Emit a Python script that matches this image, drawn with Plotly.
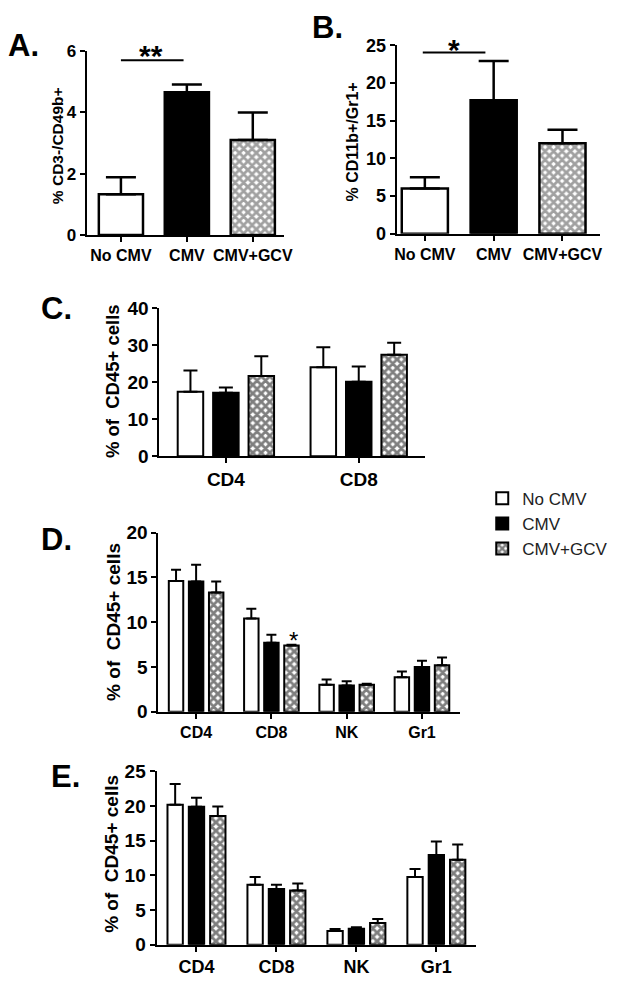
import plotly.graph_objects as go

W, H = 629, 985

# ---------------- data ----------------
groups = ["No CMV", "CMV", "CMV+GCV"]

# Panel A: % CD3-/CD49b+
a_mean = [1.33, 4.66, 3.10]
a_sem = [0.56, 0.25, 0.90]

# Panel B: % CD11b+/Gr1+
b_mean = [6.0, 17.7, 12.0]
b_sem = [1.5, 5.2, 1.8]

# Panel C
c_cats = ["CD4", "CD8"]
c_nocmv = [17.5, 24.1]
c_nocmv_sem = [5.7, 5.4]
c_cmv = [17.2, 20.2]
c_cmv_sem = [1.45, 4.1]
c_gcv = [21.7, 27.5]
c_gcv_sem = [5.4, 3.2]

# Panels D and E
de_cats = ["CD4", "CD8", "NK", "Gr1"]
d_nocmv = [14.6, 10.4, 3.0, 3.84]
d_nocmv_sem = [1.25, 1.1, 0.6, 0.66]
d_cmv = [14.55, 7.7, 2.92, 5.0]
d_cmv_sem = [1.85, 0.9, 0.48, 0.69]
d_gcv = [13.3, 7.39, 3.0, 5.2]
d_gcv_sem = [1.25, 0.1, 0.12, 0.85]

e_nocmv = [20.2, 8.64, 1.96, 9.77]
e_nocmv_sem = [3.0, 1.13, 0.28, 1.16]
e_cmv = [19.9, 8.04, 2.29, 12.94]
e_cmv_sem = [1.3, 0.6, 0.23, 1.96]
e_gcv = [18.55, 7.8, 3.13, 12.24]
e_gcv_sem = [1.4, 1.03, 0.56, 2.2]

# ---------------- styles ----------------
BOLD = "Liberation Sans, Arial, Helvetica, sans-serif"

CHECK = dict(shape="x", fgcolor="black", bgcolor="white", size=6, solidity=0.72)
fill_color = {"No CMV": "white", "CMV": "black", "CMV+GCV": "white"}
fill_shape = {"No CMV": "", "CMV": "", "CMV+GCV": "x"}


def fx(p):
    return p / W


def fy(p):
    return 1 - p / H


def err(vals, cap, thick=2):
    return dict(type="data", array=vals, arrayminus=[0] * len(vals), symmetric=False,
                color="black", thickness=thick, width=cap)


fig = go.Figure()

# Panel A / B single-trace bars
for xa, ya, means, sems in [("x", "y", a_mean, a_sem), ("x2", "y2", b_mean, b_sem)]:
    fig.add_trace(go.Bar(
        x=groups, y=means, xaxis=xa, yaxis=ya, width=0.67, showlegend=False,
        marker=dict(color=[fill_color[g] for g in groups],
                    line=dict(color="black", width=2.5),
                    pattern=dict(shape=[fill_shape[g] for g in groups], fgcolor="black",
                                 bgcolor="white", size=6, solidity=0.72)),
        error_y=err(sems, 15, 2.5), hoverinfo="skip"))

# Grouped panels
panels = [
    ("x3", "y3", c_cats, [(c_nocmv, c_nocmv_sem), (c_cmv, c_cmv_sem), (c_gcv, c_gcv_sem)], 7, False),
    ("x4", "y4", de_cats, [(d_nocmv, d_nocmv_sem), (d_cmv, d_cmv_sem), (d_gcv, d_gcv_sem)], 5, True),
    ("x5", "y5", de_cats, [(e_nocmv, e_nocmv_sem), (e_cmv, e_cmv_sem), (e_gcv, e_gcv_sem)], 5.5, False),
]
for xa, ya, cats, series, cap, leg in panels:
    for g, (vals, sems) in zip(groups, series):
        mk = dict(color=fill_color[g], line=dict(color="black", width=2))
        if fill_shape[g]:
            mk["pattern"] = CHECK
        fig.add_trace(go.Bar(x=cats, y=vals, xaxis=xa, yaxis=ya, name=g, legendgroup=g,
                             showlegend=leg, marker=mk, error_y=err(sems, cap),
                             offsetgroup=g, hoverinfo="skip"))

# ---------------- axes ----------------
boxes = {
    "": (86, 287, 42, 230, [0, 6], 2, 17, 16, [-0.52, 2.48]),
    "2": (401, 608, 36, 228.7, [0, 25], 5, 18, 16, [-0.41, 2.55]),
    "3": (160, 430, 305, 456, [0, 40], 10, 19, 19, [-0.5, 1.5]),
    "4": (159, 465, 534, 717, [0, 20], 5, 19, 16, [-0.5, 3.5]),
    "5": (157, 482, 778, 955, [0, 25], 5, 19, 18, [-0.5, 3.5]),
}
common = dict(showline=True, linewidth=2, linecolor="black", ticks="outside", ticklen=5,
              tickwidth=2, tickcolor="black", showgrid=False, zeroline=False, fixedrange=True)
layout_axes = {}
for k, (l, r, t, b, yr, dt, ysz, xsz, xr) in boxes.items():
    layout_axes["xaxis" + k] = dict(common, domain=[fx(l), fx(r)], anchor="y" + k, range=xr,
                                    type="category",
                                    tickfont=dict(family=BOLD, size=xsz, weight="bold", color="black"))
    layout_axes["yaxis" + k] = dict(common, domain=[fy(b), fy(t)], anchor="x" + k, range=yr,
                                    dtick=dt,
                                    tickfont=dict(family=BOLD, size=ysz, weight="bold", color="black"))

fig.update_layout(**layout_axes)

# ---------------- annotations ----------------
ann = []
for txt, x, y in [("A.", 4, 36), ("B.", 313, 18), ("C.", 38, 305), ("D.", 38, 541), ("E.", 48, 783)]:
    ann.append(dict(text=txt, x=fx(x), y=fy(y), xref="paper", yref="paper", xanchor="left",
                    yanchor="middle", showarrow=False,
                    font=dict(family=BOLD, size=31, weight="bold", color="black")))
for txt, x, y, sz in [("% CD3-/CD49b+", 56, 139, 15.5), ("% CD11b+/Gr1+", 356, 135, 16),
                      ("% of \u00a0CD45+ cells", 113, 379, 18.5),
                      ("% of \u00a0CD45+ cells", 113, 625, 19),
                      ("% of \u00a0CD45+ cells", 111, 862, 19)]:
    ann.append(dict(text=txt, x=fx(x), y=fy(y), xref="paper", yref="paper", textangle=-90,
                    xanchor="center", yanchor="middle", showarrow=False,
                    font=dict(family=BOLD, size=sz, weight="bold", color="black")))
ann.append(dict(text="**", x=0.45, y=5.7, xref="x", yref="y", xanchor="center", yanchor="middle",
                yshift=5, showarrow=False,
                font=dict(family=BOLD, size=30, weight="bold", color="black")))
ann.append(dict(text="*", x=0.42, y=24.05, xref="x2", yref="y2", xanchor="center", yanchor="middle",
                yshift=3, showarrow=False,
                font=dict(family=BOLD, size=30, weight="bold", color="black")))
ann.append(dict(text="*", x="CD8", y=8.0, xref="x4", yref="y4", xanchor="center", yanchor="middle",
                xshift=22, showarrow=False, font=dict(family=BOLD, size=24, color="black")))

shapes = [
    dict(type="line", x0=0.0, x1=0.95, y0=5.7, y1=5.7, xref="x", yref="y",
         line=dict(color="black", width=2)),
    dict(type="line", x0=-0.03, x1=0.88, y0=24.05, y1=24.05, xref="x2", yref="y2",
         line=dict(color="black", width=2)),
]

fig.update_layout(
    width=W, height=H, margin=dict(l=0, r=0, t=0, b=0),
    paper_bgcolor="white", plot_bgcolor="white",
    barmode="group", bargap=0.2, bargroupgap=0.28,
    annotations=ann, shapes=shapes,
    legend=dict(x=fx(488), y=fy(481), xanchor="left", yanchor="top",
                font=dict(family=BOLD, size=17, color="#222222"),
                bgcolor="rgba(0,0,0,0)", tracegroupgap=0, itemclick=False),
)

fig.write_html("out.html", config={"displayModeBar": False, "staticPlot": True},
               post_script="document.body.style.margin='0';document.body.style.overflow='hidden';")
